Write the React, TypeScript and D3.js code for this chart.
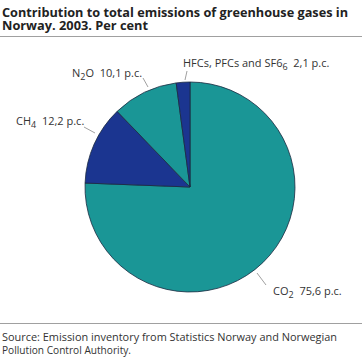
import React from "react";
import * as d3 from "d3";

const categories = ["CO2", "CH4", "N2O", "HFCs"];
const values = [75.6, 12.2, 10.1, 2.1];
const valueLabels = ["75,6 p.c.", "12,2 p.c.", "10,1 p.c.", "2,1 p.c."];
const colors = ["#1a9696", "#1b3590", "#1a9696", "#1b3590"];

const W = 362;
const H = 357;
const cx = 190;
const cy = 187;
const R = 105;
const FONT = "'Open Sans', 'DejaVu Sans', sans-serif";

function Label({ name }: { name: string }) {
  if (name === "CO2") return <>CO<tspan dy={3} fontSize={9}>2</tspan><tspan dy={-3}>{"  "}</tspan></>;
  if (name === "CH4") return <>CH<tspan dy={3} fontSize={9}>4</tspan><tspan dy={-3}>{"  "}</tspan></>;
  if (name === "N2O") return <>N<tspan dy={3} fontSize={9}>2</tspan><tspan dy={-3}>O  </tspan></>;
  return <>HFCs, PFCs and SF6<tspan dy={3} fontSize={9}>6</tspan><tspan dy={-3}>{"  "}</tspan></>;
}

export default function App() {
  const pie = d3.pie<number>().sort(null).value((d) => d);
  const arcs = pie(values);
  const arc = d3.arc<d3.PieArcDatum<number>>().innerRadius(0).outerRadius(R);

  const labelPos: Record<string, { x: number; y: number; l1: [number, number]; l2: [number, number] }> = {
    CO2: { x: 273, y: 295, l1: [257, 273], l2: [266, 285] },
    CH4: { x: 16, y: 125, l1: [84, 127], l2: [95, 133] },
    N2O: { x: 72, y: 77, l1: [143, 78], l2: [148, 87] },
    HFCs: { x: 183, y: 67, l1: [187, 71], l2: [185, 80] },
  };

  return (
    <svg width={W} height={H} style={{ position: "absolute", left: 0, top: 0 }} fontFamily={FONT}>
      <text x={2} y={17} fontSize={13} fontWeight="bold" fill="#222" textLength={346} lengthAdjust="spacingAndGlyphs">
        Contribution to total emissions of greenhouse gases in
      </text>
      <text x={2} y={30} fontSize={13} fontWeight="bold" fill="#222" textLength={146} lengthAdjust="spacingAndGlyphs">
        Norway. 2003. Per cent
      </text>
      <line x1={0} x2={362} y1={36.5} y2={36.5} stroke="#a0a0a0" strokeWidth={1} />

      <g transform={`translate(${cx},${cy})`}>
        {arcs.map((a, i) => (
          <path key={categories[i]} d={arc(a) || ""} fill={colors[i]} stroke="#1a2a40" strokeWidth={0.8} />
        ))}
      </g>

      {categories.map((c, i) => {
        const p = labelPos[c];
        return (
          <g key={c}>
            <line x1={p.l1[0]} y1={p.l1[1]} x2={p.l2[0]} y2={p.l2[1]} stroke="#888" strokeWidth={0.8} />
            <text x={p.x} y={p.y} fontSize={11} fill="#333" style={{ whiteSpace: "pre" }}>
              <Label name={c} />
              {valueLabels[i]}
            </text>
          </g>
        );
      })}

      <line x1={0} x2={362} y1={323.5} y2={323.5} stroke="#a0a0a0" strokeWidth={1} />
      <text x={2} y={341} fontSize={10.5} fill="#333" textLength={335} lengthAdjust="spacingAndGlyphs">
        Source: Emission inventory from Statistics Norway and Norwegian
      </text>
      <text x={2} y={354} fontSize={10.5} fill="#333" textLength={129} lengthAdjust="spacingAndGlyphs">
        Pollution Control Authority.
      </text>
    </svg>
  );
}
